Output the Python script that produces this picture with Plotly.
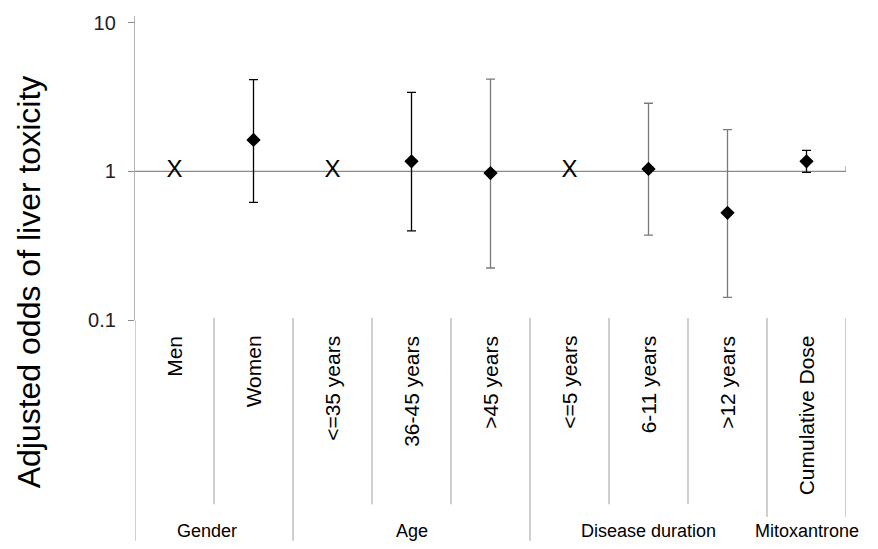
import plotly.graph_objects as go

# ---- data ----
categories = ["Men", "Women", "<=35 years", "36-45 years", ">45 years",
              "<=5 years", "6-11 years", ">12 years", "Cumulative Dose"]
groups = ["Gender", "Age", "Disease duration", "Mitoxantrone"]
group_sizes = [2, 3, 3, 1]
odds = [1, 1.63, 1, 1.17, 0.975, 1, 1.04, 0.527, 1.17]
ci_low = [None, 0.62, None, 0.398, 0.224, None, 0.373, 0.142, 0.985]
ci_high = [None, 4.15, None, 3.41, 4.19, None, 2.88, 1.91, 1.387]
is_reference = [True, False, True, False, False, True, False, False, False]
y_tick_vals = [0.1, 1, 10]
y_tick_text = ["0.1", "1", "10"]
y_title = "Adjusted odds of liver toxicity"

# ---- styles ----
FONT = "Arial, Liberation Sans, sans-serif"
bar_colors = ["#000", "#000", "#000", "#000", "#7a7a7a", "#000", "#7a7a7a", "#7a7a7a", "#000"]
W, H = 878, 549
ml, mr, mt, mb = 135, 31.5, 13, 229
plot_h = H - mt - mb

def py(pix):  # pixel y -> paper y
    return (H - mb - pix) / plot_h

fig = go.Figure()
n = len(categories)
idx = list(range(n))

# reference categories: "X"
ref_idx = [i for i in idx if is_reference[i]]
fig.add_trace(go.Scatter(
    x=ref_idx, y=[odds[i] for i in ref_idx], mode="text", text=["X"] * len(ref_idx),
    textposition="middle center", textfont=dict(family=FONT, size=24, color="#000"),
    showlegend=False, hoverinfo="skip"))

# estimates with CI
for i in idx:
    if is_reference[i]:
        continue
    fig.add_trace(go.Scatter(
        x=[i], y=[odds[i]], mode="markers",
        marker=dict(symbol="diamond", size=11, color="#000"),
        error_y=dict(type="data", symmetric=False,
                     array=[ci_high[i] - odds[i]], arrayminus=[odds[i] - ci_low[i]],
                     color=bar_colors[i], thickness=1.3, width=4.5),
        showlegend=False))

shapes = []
line_grey = "#8a8a8a"
sep_grey = "#b0b0b0"
# horizontal axis at y=1
shapes.append(dict(type="line", xref="x", yref="y", x0=-0.5, x1=n - 0.5, y0=1, y1=1,
                   line=dict(color=line_grey, width=1.3), layer="below"))
# ticks at category boundaries
for k in range(n):
    xb = k + 0.5
    top = 5 if k == n - 1 else 0
    shapes.append(dict(type="line", xref="x", yref="y", ysizemode="pixel", yanchor=1,
                       x0=xb, x1=xb, y0=top, y1=-7, line=dict(color=line_grey, width=1.2)))

# separators in the category table
bounds = []
s = 0
for gsz in group_sizes:
    s += gsz
    bounds.append(s)
group_end = set(b - 0.5 for b in bounds)
last_group_start = bounds[-2] - 0.5
for k in range(n + 1):
    xb = k - 0.5
    if xb == -0.5:
        end = 543
    elif xb >= last_group_start:
        end = 519
    elif xb in group_end:
        end = 543
    else:
        end = 506
    y0 = 0 if xb == -0.5 else py(318)
    shapes.append(dict(type="line", xref="x", yref="paper", x0=xb, x1=xb, y0=y0, y1=py(end),
                       line=dict(color=sep_grey, width=1.2)))

annotations = []
for i, c in enumerate(categories):
    annotations.append(dict(x=i, y=py(334), xref="x", yref="paper", text=c, textangle=-90,
                            xanchor="center", yanchor="top", showarrow=False,
                            font=dict(family=FONT, size=21, color="#000")))
start = 0
for g, gsz in zip(groups, group_sizes):
    center = start + (gsz - 1) / 2
    annotations.append(dict(x=center, y=py(533), xref="x", yref="paper", text=g,
                            xanchor="center", yanchor="middle", showarrow=False,
                            xshift=-7 if start == 0 else 0,
                            font=dict(family=FONT, size=18, color="#000")))
    start += gsz
annotations.append(dict(x=0, xref="paper", xshift=29 - ml, y=py(282), yref="paper",
                        text=y_title, textangle=-90, xanchor="center", yanchor="middle",
                        showarrow=False, font=dict(family=FONT, size=32, color="#000")))

fig.update_layout(
    width=W, height=H, margin=dict(l=ml, r=mr, t=mt, b=mb),
    paper_bgcolor="white", plot_bgcolor="white",
    shapes=shapes, annotations=annotations,
    xaxis=dict(range=[-0.5, n - 0.5], showticklabels=False, showgrid=False,
               zeroline=False, showline=False, ticks=""),
    yaxis=dict(type="log", range=[-1, 1 + 7 / 150], tickvals=y_tick_vals, ticktext=y_tick_text,
               ticks="outside", ticklen=6, tickcolor=line_grey, showline=True,
               linecolor="#b3b3b3", linewidth=1.3, showgrid=False, zeroline=False,
               tickfont=dict(family=FONT, size=20, color="#222"), ticklabelstandoff=8),
)

fig.write_html("out.html", config={"displayModeBar": False},
               post_script="document.body.style.margin='0';document.body.style.overflow='hidden';")
